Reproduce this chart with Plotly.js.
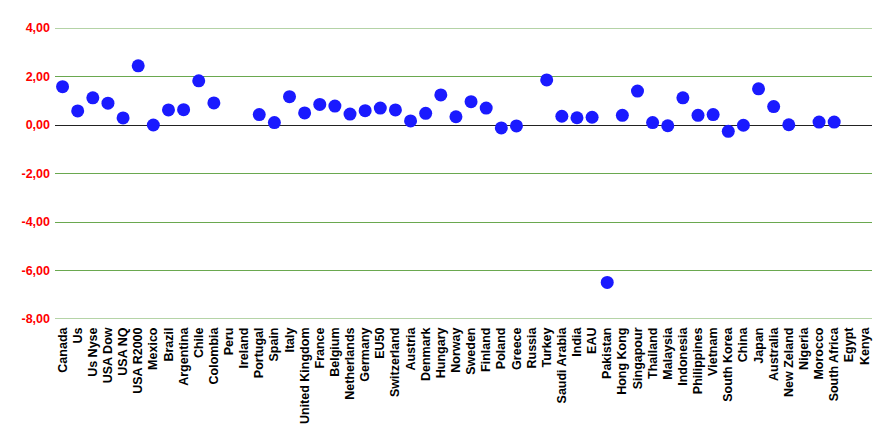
<!DOCTYPE html>
<html>
<head>
<meta charset="utf-8">
<script src="https://cdn.plot.ly/plotly-3.0.1.min.js"></script>
<style>html,body{margin:0;padding:0;background:#fff;}#chart{width:893px;height:436px;}</style>
</head>
<body>
<div id="chart"></div>
<script>
const categories = ["Canada","Us","Us Nyse","USA Dow","USA NQ","USA R2000","Mexico","Brazil","Argentina","Chile","Colombia","Peru","Ireland","Portugal","Spain","Italy","United Kingdom","France","Belgium","Netherlands","Germany","EU50","Switzerland","Austria","Denmark","Hungary","Norway","Sweden","Finland","Poland","Greece","Russia","Turkey","Saudi Arabia","India","EAU","Pakistan","Hong Kong","Singapour","Thailand","Malaysia","Indonesia","Philippines","Vietnam","South Korea","China","Japan","Australia","New Zeland","Nigeria","Morocco","South Africa","Egypt","Kenya"];
const values = [1.58,0.58,1.12,0.90,0.29,2.44,0.00,0.62,0.63,1.82,0.91,null,null,0.43,0.10,1.17,0.50,0.85,0.78,0.45,0.59,0.70,0.62,0.17,0.48,1.24,0.34,0.96,0.70,-0.12,-0.04,null,1.86,0.36,0.30,0.32,-6.49,0.40,1.40,0.10,-0.03,1.12,0.40,0.43,-0.26,-0.01,1.49,0.76,0.01,null,0.12,0.12,null,null];
const yTickVals = [-8,-6,-4,-2,0,2,4];
const yTickText = ["-8,00","-6,00","-4,00","-2,00","0,00","2,00","4,00"];
const yMin = -8, yMax = 4;

const gridColor = '#6aa84f';
Plotly.newPlot('chart', [{
  type: 'scatter',
  mode: 'markers',
  x: categories,
  y: values,
  marker: {color: 'rgb(26,26,255)', size: 13},
  hoverinfo: 'x+y'
}], {
  width: 893, height: 436,
  margin: {l: 55, r: 21, t: 28, b: 117, pad: 0},
  paper_bgcolor: '#fff', plot_bgcolor: '#fff',
  showlegend: false,
  font: {family: 'Arial, Liberation Sans, sans-serif'},
  shapes: [yMin, yMax].map(v => ({
    type: 'line', xref: 'paper', x0: 0, x1: 1, yref: 'y', y0: v, y1: v,
    line: {color: gridColor, width: 1}, layer: 'below'
  })),
  xaxis: {
    type: 'category',
    range: [-0.5, categories.length - 0.5],
    tickangle: -90,
    ticklabelstandoff: 5,
    tickfont: {family: 'Arial, Liberation Sans, sans-serif', size: 12.5, color: '#000', weight: 700},
    showgrid: false, zeroline: false, showline: false, ticks: ''
  },
  yaxis: {
    range: [yMin, yMax],
    tickvals: yTickVals,
    ticktext: yTickText,
    ticklabelstandoff: 4,
    tickfont: {family: 'Arial, Liberation Sans, sans-serif', size: 12.5, color: '#ff0000', weight: 700},
    showgrid: true, gridcolor: gridColor, gridwidth: 1,
    zeroline: true, zerolinecolor: '#222', zerolinewidth: 1,
    showline: false, ticks: ''
  }
}, {displayModeBar: false, staticPlot: true});
</script>
</body>
</html>
